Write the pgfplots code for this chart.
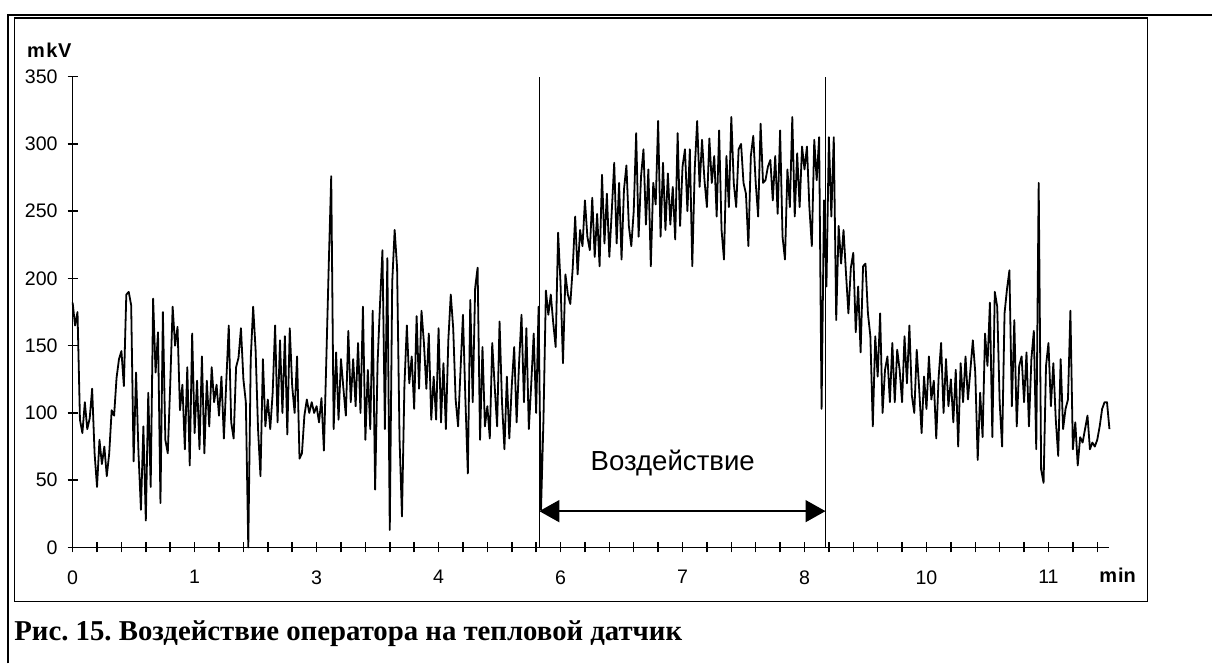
\documentclass[border=0pt]{standalone}
\usepackage{pgfplots}
\pgfplotsset{compat=1.18}
\usepackage{fontspec}
\setmainfont{Liberation Sans}
\newfontfamily\capfont{Liberation Serif}
\usetikzlibrary{arrows.meta}
\frenchspacing
\begin{document}
\begin{tikzpicture}
\path (0,0) rectangle (606.5pt,332pt);
\draw[line width=1.15pt] (3.9pt,0pt) -- (3.9pt,324.65pt) -- (606.5pt,324.65pt);
\draw[line width=0.65pt] (7.35pt,31pt) rectangle (574.15pt,323pt);
\begin{axis}[
 at={(36.35pt,58pt)}, anchor=south west,
 scale only axis, width=518.9pt, height=235.65pt,
 xmin=0, xmax=42.5, ymin=0, ymax=350,
 axis lines=left, axis line style={-, line width=0.75pt, black},
 xtick={0,...,42},
 xticklabels={0,,,,,1,,,,,3,,,,,4,,,,,6,,,,,7,,,,,8,,,,,10,,,,,11,,},
 ytick={0,50,...,350},
 tick align=center, major tick length=5pt,
 tick style={line width=0.75pt, black},
 ticklabel style={font=\fontsize{9.8}{11}\selectfont},
 xticklabel style={yshift=-5.5pt},
 yticklabel style={xshift=-1.5pt},
 /pgf/number format/assume math mode=true,
 clip=false,
]
\addplot[black, line width=0.9pt, line join=round] coordinates {
(0,182)(0.1,165)(0.2,175)(0.3,95)(0.4,85)(0.5,108)(0.6,88)(0.7,96)(0.8,118)(0.9,70)
(1.0,45)(1.1,80)(1.2,62)(1.3,75)(1.4,53)(1.5,70)(1.6,102)(1.7,98)(1.8,126)(1.9,140)
(2.0,146)(2.1,120)(2.2,188)(2.3,190)(2.4,180)(2.5,64)(2.6,130)(2.7,70)(2.8,28)(2.9,90)
(3.0,20)(3.1,115)(3.2,45)(3.3,185)(3.4,130)(3.5,160)(3.6,33)(3.7,175)(3.8,80)(3.9,70)
(4.0,121)(4.1,179)(4.2,150)(4.3,164)(4.4,102)(4.5,121)(4.6,73)(4.7,134)(4.8,61)(4.9,159)
(5.0,85)(5.1,124)(5.2,73)(5.3,142)(5.4,70)(5.5,124)(5.6,90)(5.7,134)(5.8,108)(5.9,121)
(6.0,98)(6.1,127)(6.2,81)(6.3,124)(6.4,165)(6.5,93)(6.6,81)(6.7,134)(6.8,141)(6.9,163)
(7.0,125)(7.1,108)(7.2,0)(7.3,140)(7.4,179)(7.5,147)(7.6,88)(7.7,53)(7.8,140)(7.9,90)
(8.0,110)(8.1,88)(8.2,115)(8.3,165)(8.4,93)(8.5,154)(8.6,100)(8.7,157)(8.8,84)(8.9,163)
(9.0,120)(9.1,100)(9.2,142)(9.3,66)(9.4,70)(9.5,98)(9.6,110)(9.7,100)(9.8,108)(9.9,100)
(10.0,105)(10.1,93)(10.2,111)(10.3,72)(10.4,140)(10.5,211)(10.6,276)(10.7,88)(10.8,145)(10.9,95)
(11.0,140)(11.1,118)(11.2,98)(11.3,161)(11.4,108)(11.5,140)(11.6,105)(11.7,152)(11.8,100)(11.9,179)
(12.0,80)(12.1,132)(12.2,88)(12.3,176)(12.4,43)(12.5,137)(12.6,181)(12.7,221)(12.8,88)(12.9,215)
(13.0,13)(13.1,197)(13.2,236)(13.3,208)(13.4,81)(13.5,23)(13.6,120)(13.7,165)(13.8,122)(13.9,142)
(14.0,103)(14.1,172)(14.2,118)(14.3,176)(14.4,152)(14.5,118)(14.6,159)(14.7,95)(14.8,127)(14.9,95)
(15.0,163)(15.1,93)(15.2,137)(15.3,88)(15.4,154)(15.5,188)(15.6,163)(15.7,110)(15.8,90)(15.9,132)
(16.0,173)(16.1,110)(16.2,55)(16.3,184)(16.4,108)(16.5,193)(16.6,208)(16.7,80)(16.8,149)(16.9,90)
(17.0,105)(17.1,81)(17.2,152)(17.3,120)(17.4,90)(17.5,168)(17.6,108)(17.7,73)(17.8,127)(17.9,81)
(18.0,120)(18.1,149)(18.2,93)(18.3,137)(18.4,173)(18.5,108)(18.6,163)(18.7,88)(18.8,122)(18.9,159)
(19.0,100)(19.1,179)(19.2,28)(19.3,95)(19.4,191)(19.5,173)(19.6,188)(19.7,167)(19.8,149)(19.9,234)
(20.0,196)(20.1,137)(20.2,203)(20.3,188)(20.4,181)(20.5,208)(20.6,246)(20.7,203)(20.8,236)(20.9,224)
(21.0,258)(21.1,231)(21.2,221)(21.3,260)(21.4,216)(21.5,248)(21.6,209)(21.7,277)(21.8,226)(21.9,263)
(22.0,216)(22.1,250)(22.2,286)(22.3,226)(22.4,271)(22.5,214)(22.6,266)(22.7,284)(22.8,239)(22.9,224)
(23.0,250)(23.1,308)(23.2,231)(23.3,276)(23.4,296)(23.5,240)(23.6,281)(23.7,209)(23.8,271)(23.9,255)
(24.0,317)(24.1,231)(24.2,286)(24.3,236)(24.4,278)(24.5,240)(24.6,268)(24.7,229)(24.8,308)(24.9,239)
(25.0,283)(25.1,296)(25.2,250)(25.3,296)(25.4,209)(25.5,281)(25.6,317)(25.7,268)(25.8,303)(25.9,273)
(26.0,253)(26.1,304)(26.2,271)(26.3,291)(26.4,246)(26.5,310)(26.6,236)(26.7,214)(26.8,291)(26.9,253)
(27.0,320)(27.1,271)(27.2,253)(27.3,296)(27.4,300)(27.5,271)(27.6,263)(27.7,224)(27.8,291)(27.9,306)
(28.0,271)(28.1,246)(28.2,315)(28.3,271)(28.4,273)(28.5,283)(28.6,288)(28.7,258)(28.8,291)(28.9,248)
(29.0,310)(29.1,231)(29.2,214)(29.3,281)(29.4,253)(29.5,320)(29.6,246)(29.7,293)(29.8,253)(29.9,298)
(30.0,281)(30.1,298)(30.2,253)(30.3,224)(30.4,303)(30.5,273)(30.6,305)(30.7,103)(30.8,258)(30.9,194)
(31.0,305)(31.1,246)(31.2,305)(31.3,169)(31.4,239)(31.5,211)(31.6,236)(31.7,204)(31.8,174)(31.9,208)
(32.0,219)(32.1,160)(32.2,194)(32.3,145)(32.4,209)(32.5,211)(32.6,174)(32.7,157)(32.8,90)(32.9,157)
(33.0,127)(33.1,174)(33.2,100)(33.3,132)(33.4,142)(33.5,108)(33.6,152)(33.7,108)(33.8,147)(33.9,132)
(34.0,108)(34.1,157)(34.2,122)(34.3,165)(34.4,113)(34.5,100)(34.6,147)(34.7,118)(34.8,85)(34.9,127)
(35.0,103)(35.1,142)(35.2,110)(35.3,124)(35.4,81)(35.5,127)(35.6,152)(35.7,100)(35.8,140)(35.9,105)
(36.0,125)(36.1,93)(36.2,132)(36.3,75)(36.4,137)(36.5,108)(36.6,142)(36.7,110)(36.8,132)(36.9,154)
(37.0,130)(37.1,65)(37.2,115)(37.3,82)(37.4,159)(37.5,135)(37.6,182)(37.7,82)(37.8,190)(37.9,179)
(38.0,108)(38.1,75)(38.2,174)(38.3,192)(38.4,206)(38.5,105)(38.6,169)(38.7,90)(38.8,135)(38.9,142)
(39.0,108)(39.1,145)(39.2,90)(39.3,140)(39.4,161)(39.5,73)(39.6,271)(39.7,58)(39.8,48)(39.9,135)
(40.0,152)(40.1,105)(40.2,137)(40.3,95)(40.4,68)(40.5,140)(40.6,88)(40.7,103)(40.8,110)(40.9,176)
(41.0,73)(41.1,93)(41.2,61)(41.3,82)(41.4,78)(41.5,88)(41.6,98)(41.7,73)(41.8,78)(41.9,75)
(42.0,80)(42.1,90)(42.2,103)(42.3,108)(42.4,108)(42.5,88)
};
\addplot[black, line width=0.75pt] coordinates {(19.13,0)(19.13,350)};
\addplot[black, line width=0.75pt] coordinates {(30.86,0)(30.86,350)};
\addplot[black, line width=0.75pt, {Triangle[length=10pt,width=11pt]}-{Triangle[length=10pt,width=11pt]}] coordinates {(19.13,27)(30.86,27)};
\node[anchor=base, font=\fontsize{13.8}{15}\selectfont, inner sep=0] at (axis cs:24.6,57.4) {Воздействие};
\end{axis}
\node[anchor=base west, font=\bfseries\fontsize{10}{11}\selectfont, inner sep=0] at (13.35pt,303pt) {m\kern0.8pt k\kern0.3pt V};
\node[anchor=base west, font=\bfseries\fontsize{10}{11}\selectfont, inner sep=0] at (550pt,40.5pt) {m\kern0.5pt in};
\node[anchor=base west, font=\capfont\bfseries\fontsize{14.4}{16}\selectfont, inner sep=0] at (7pt,11.5pt) {Рис. 15. Воздействие оператора на тепловой датчик};
\end{tikzpicture}
\end{document}
